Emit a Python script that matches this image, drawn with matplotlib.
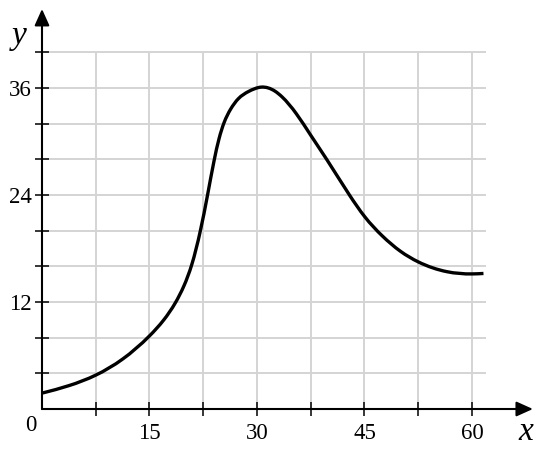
import numpy as np
import matplotlib
matplotlib.use("Agg")
import matplotlib.pyplot as plt
from matplotlib.path import Path
from matplotlib.patches import PathPatch

# точки кривой
x_pts = [0.1, 3.75, 7.5, 11.25, 15, 17, 18.6, 19.8, 20.9, 22.1, 23.1, 24.0,
         24.7, 25.4, 26.3, 27.4, 28.8, 30.6, 32.5, 33.5, 35.5, 37.5, 39.8,
         42.9, 45, 47.5, 50, 52.5, 56.5, 60, 61.6]
y_pts = [1.8, 2.62, 3.8, 5.6, 8.2, 10, 11.9, 13.8, 16.2, 20, 24, 27.8,
         30.3, 32.1, 33.6, 34.8, 35.6, 36.1, 35.65, 35.0, 33.1, 30.7, 27.9,
         24, 21.6, 19.4, 17.7, 16.5, 15.4, 15.15, 15.2]

x_ticks = [7.5 * k for k in range(1, 9)]
y_ticks = [4 * k for k in range(1, 11)]
x_labels = {15: "15", 30: "30", 45: "45", 60: "60"}
y_labels = {12: "12", 24: "24", 36: "36"}

plt.rcParams['font.family'] = ['Liberation Serif', 'DejaVu Serif']

fig = plt.figure(figsize=(5.46, 4.5), dpi=100)
ax = fig.add_axes([0, 0, 1, 1])
ax.set_xlim(-5.860, 70.326)
ax.set_ylim(-4.598, 45.869)
for s in ax.spines.values():
    s.set_visible(False)
ax.spines['bottom'].set_position(('data', 0))
ax.spines['left'].set_position(('data', 0))

# сетка
grid_c = '#d4d4d4'
ax.vlines(x_ticks, 0, 40, color=grid_c, lw=1.4, zorder=1)
ax.hlines(y_ticks, 0, 61.95, color=grid_c, lw=1.4, zorder=1)

# оси со стрелками
arrow = dict(arrowstyle='-|>,head_length=1.0,head_width=0.45', color='black',
             lw=1.5, shrinkA=0, shrinkB=0, mutation_scale=10)
ax.annotate('', xy=(68.5, 0), xytext=(0, 0), arrowprops=arrow, zorder=3)
ax.annotate('', xy=(0, 44.86), xytext=(0, 0), arrowprops=arrow, zorder=3)

# засечки
ax.set_xticks(x_ticks)
ax.set_xticklabels([x_labels.get(t, '') for t in x_ticks])
ax.set_yticks(y_ticks)
ax.set_yticklabels([y_labels.get(t, '') for t in y_ticks])
ax.tick_params(direction='inout', length=9.4, width=1.1, labelsize=16.5)
ax.tick_params(axis='x', pad=5.5)
ax.tick_params(axis='y', pad=2.5)

# кубический сплайн через точки -> кривые Безье
xs = np.array(x_pts)
ys = np.array(y_pts)
n = len(xs)
h = np.diff(xs)
d = np.diff(ys) / h
A = np.zeros((n, n))
b = np.zeros(n)
A[0, 0] = A[-1, -1] = 1
for i in range(1, n - 1):
    A[i, i - 1] = h[i - 1]
    A[i, i] = 2 * (h[i - 1] + h[i])
    A[i, i + 1] = h[i]
    b[i] = 6 * (d[i] - d[i - 1])
M = np.linalg.solve(A, b)
m = np.empty(n)
m[:-1] = d - h * (2 * M[:-1] + M[1:]) / 6
m[-1] = d[-1] + h[-1] * (M[-2] + 2 * M[-1]) / 6
verts = [(xs[0], ys[0])]
codes = [Path.MOVETO]
for i in range(n - 1):
    verts += [(xs[i] + h[i] / 3, ys[i] + m[i] * h[i] / 3),
              (xs[i + 1] - h[i] / 3, ys[i + 1] - m[i + 1] * h[i] / 3),
              (xs[i + 1], ys[i + 1])]
    codes += [Path.CURVE4] * 3
ax.add_patch(PathPatch(Path(verts, codes), fill=False, edgecolor='black',
                       lw=2.4, capstyle='butt', zorder=4))

ax.text(-1.53, -1.8, '0', fontsize=16.5, ha='center', va='center')
ax.text(-3.2, 41.9, 'y', fontsize=24, style='italic', ha='center', va='center')
ax.text(67.5, -2.6, 'x', fontsize=24, style='italic', ha='center', va='center')

fig.savefig('out.png', dpi=100)
